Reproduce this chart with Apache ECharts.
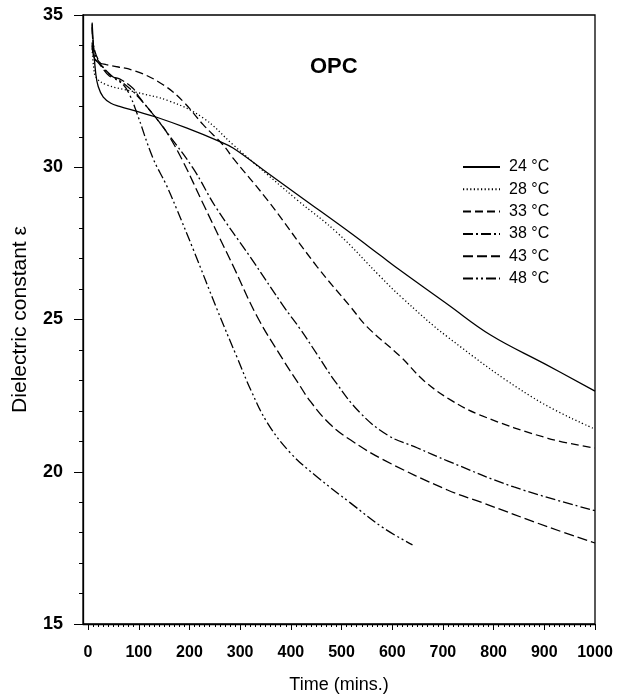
<!DOCTYPE html>
<html>
<head>
<meta charset="utf-8">
<script src="https://cdn.jsdelivr.net/npm/echarts@6/dist/echarts.min.js"></script>
<style>html,body{margin:0;padding:0;background:#fff}#c{width:629px;height:699px}</style>
</head>
<body>
<div id="c"></div>
<script>
const seriesNames = ['24 °C', '28 °C', '33 °C', '38 °C', '43 °C', '48 °C'];
const xTickLabels = [0, 100, 200, 300, 400, 500, 600, 700, 800, 900, 1000];
const yTickLabels = [15, 20, 25, 30, 35];

const t24 = [8, 11, 15, 20, 30, 45, 62, 95, 134, 194, 259, 286, 346, 425, 518, 577, 617, 709, 794, 900, 1000];
const v24 = [34.75, 33.9, 33.1, 32.65, 32.3, 32.1, 32.0, 31.84, 31.65, 31.29, 30.85, 30.63, 29.91, 28.96, 27.84, 27.1, 26.6, 25.5, 24.49, 23.55, 22.65];

const t28 = [8, 11, 16, 36, 88, 161, 227, 286, 330, 413, 492, 577, 617, 709, 879, 1000];
const v28 = [33.9, 33.3, 32.95, 32.71, 32.49, 32.17, 31.62, 30.74, 30.1, 28.92, 27.84, 26.4, 25.75, 24.43, 22.42, 21.4];

const t33 = [8, 12, 20, 36, 95, 148, 187, 227, 266, 286, 354, 452, 518, 551, 617, 662, 715, 775, 907, 1000];
const v33 = [34.1, 33.6, 33.45, 33.37, 33.15, 32.71, 32.17, 31.4, 30.74, 30.3, 28.92, 26.73, 25.41, 24.75, 23.77, 23.0, 22.36, 21.85, 21.1, 20.78];

const t38 = [8, 12, 22, 42, 62, 88, 101, 134, 154, 207, 253, 320, 385, 420, 452, 488, 537, 591, 650, 710, 840, 1000];
const v38 = [34.7, 33.8, 33.45, 33.05, 32.85, 32.5, 32.27, 31.62, 31.18, 29.97, 28.66, 27.05, 25.45, 24.65, 23.85, 22.95, 21.93, 21.2, 20.78, 20.35, 19.5, 18.72];

const t43 = [8, 12, 22, 42, 62, 88, 101, 134, 154, 187, 227, 287, 334, 385, 413, 439, 478, 518, 583, 709, 775, 907, 1000];
const v43 = [34.0, 33.6, 33.4, 33.0, 32.9, 32.6, 32.3, 31.62, 31.18, 30.2, 28.8, 26.73, 25.08, 23.67, 22.95, 22.3, 21.55, 21.04, 20.39, 19.4, 19.0, 18.19, 17.66];

const t48 = [8, 12, 26, 50, 70, 82, 95, 128, 154, 174, 208, 255, 294, 322, 354, 399, 452, 518, 583, 640];
const v48 = [34.6, 33.9, 33.37, 32.95, 32.7, 32.38, 31.84, 30.3, 29.43, 28.66, 27.28, 25.31, 23.75, 22.65, 21.6, 20.62, 19.83, 18.97, 18.15, 17.6];

const times = [t24, t28, t33, t38, t43, t48];
const values = [v24, v28, v33, v38, v43, v48];
const dashes = [
  'solid',
  [1.2, 2.4],
  [8, 4],
  [10, 3, 2, 3],
  [10, 4],
  [10, 3, 2, 3, 2, 3]
];

const minorX = [];
for (let i = 10; i < 1000; i += 10) if (i % 100 !== 0) minorX.push(i);

const FONT = 'Liberation Sans, Arial, sans-serif';
const chart = echarts.init(document.getElementById('c'), null, {renderer: 'canvas'});
chart.setOption({
  animation: false,
  backgroundColor: '#fff',
  title: {
    text: 'OPC', left: 305, top: 51,
    textStyle: {fontFamily: FONT, fontSize: 22, fontWeight: 'bold', color: '#000'}
  },
  legend: {
    orient: 'vertical', left: 462, top: 159, padding: 0,
    itemWidth: 37, itemHeight: 14, itemGap: 6.3,
    data: seriesNames,
    itemStyle: {opacity: 0},
    textStyle: {fontFamily: FONT, fontSize: 16, color: '#000', padding: [0, 0, 0, 4]}
  },
  grid: {left: 83, right: 34, top: 15, bottom: 75, containLabel: false, outerBoundsMode: 'none',
    show: true, borderColor: '#000', borderWidth: 1.3, backgroundColor: 'transparent'},
  xAxis: [{
    type: 'value', min: -10, max: 1000, position: 'bottom',
    name: 'Time (mins.)', nameLocation: 'middle', nameGap: 52,
    nameTextStyle: {fontFamily: FONT, fontSize: 18, color: '#000'},
    axisLine: {show: true, onZero: false, lineStyle: {color: '#000', width: 1.3}},
    axisTick: {show: true, inside: false, length: 6, customValues: xTickLabels, lineStyle: {color: '#000'}},
    axisLabel: {show: true, customValues: xTickLabels, margin: 21, formatter: v => String(v),
      fontFamily: FONT, fontSize: 16, fontWeight: 'bold', color: '#000'},
    splitLine: {show: false}
  }, {
    type: 'value', min: -10, max: 1000, position: 'bottom',
    axisLine: {show: false, onZero: false},
    axisTick: {show: true, inside: false, length: 3, customValues: minorX, lineStyle: {color: '#000'}},
    axisLabel: {show: false},
    splitLine: {show: false}
  }],
  yAxis: {
    type: 'value', min: 15, max: 35, interval: 5,
    name: 'Dielectric constant ε', nameLocation: 'middle', nameGap: 52, nameRotate: 90,
    nameTextStyle: {fontFamily: FONT, fontSize: 21, color: '#000'},
    axisLine: {show: true, onZero: false, lineStyle: {color: '#000', width: 1.3}},
    axisTick: {show: true, inside: false, length: 9, lineStyle: {color: '#000'}},
    minorTick: {show: true, splitNumber: 5, length: 4, lineStyle: {color: '#000'}},
    axisLabel: {margin: 20, formatter: v => String(v), fontFamily: FONT, fontSize: 18, fontWeight: 'bold', color: '#000'},
    splitLine: {show: false}
  },
  series: seriesNames.map((n, i) => ({
    name: n, type: 'line', xAxisIndex: 0,
    data: times[i].map((t, j) => [t, values[i][j]]),
    showSymbol: false, symbol: 'none',
    smooth: 0.4,
    lineStyle: {color: '#000', width: 1.3, type: dashes[i]},
    itemStyle: {color: '#000'}
  }))
});
</script>
</body>
</html>
